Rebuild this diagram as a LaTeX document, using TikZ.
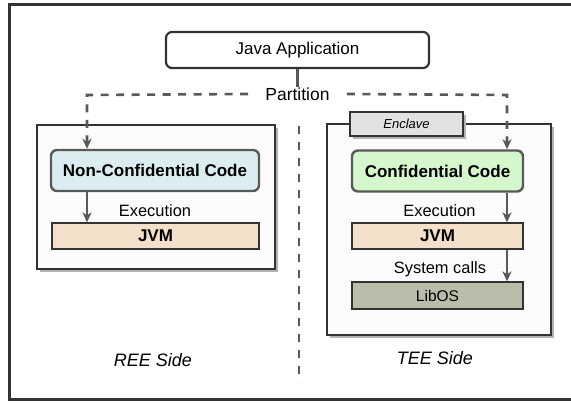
\documentclass[tikz,border=0pt]{standalone}
\usepackage{fontspec}
\setmainfont{Liberation Sans}
\usetikzlibrary{arrows.meta,shadows}
\definecolor{frame}{HTML}{333333}
\definecolor{edge}{HTML}{595959}
\definecolor{nccfill}{HTML}{DCEDF1}
\definecolor{ccfill}{HTML}{D6F6CD}
\definecolor{jvmfill}{HTML}{F3E0CA}
\definecolor{libosfill}{HTML}{B9BDA9}
\definecolor{tabfill}{HTML}{E2E2E2}
\definecolor{sidefill}{HTML}{FDFBFC}
\tikzset{
  x=1pt, y=-1pt,
  fs/.style={font=\fontsize{#1}{#1}\selectfont},
  tip/.style={-{Stealth[length=10pt,width=9pt,inset=3pt]}},
  sidebox/.style={draw=frame, line width=1.5pt, fill=sidefill, inner sep=0pt,
    drop shadow={shadow xshift=3pt, shadow yshift=-3pt, fill=black!30, opacity=1}},
  codebox/.style={draw=edge, line width=2.4pt, rounded corners=6pt, minimum height=41pt, inner sep=0pt,
    font=\fontsize{17}{17}\selectfont\bfseries},
  flatbox/.style={draw=frame, line width=1.3pt, minimum height=26pt, inner sep=0pt},
  lbl/.style={inner sep=1pt, font=\fontsize{16.4}{16.4}\selectfont},
  side/.style={inner sep=1pt, font=\fontsize{18}{18}\selectfont\itshape},
  arr/.style={draw=edge, line width=2.4pt, tip},
  dsh/.style={draw=edge, line width=2.6pt, dash pattern=on 8pt off 7.5pt}
}
\begin{document}
\begin{tikzpicture}
\useasboundingbox (0,0) rectangle (571,403);
% outer frame
\draw[frame, line width=3pt] (9,5) rectangle (600,400);
% side boxes
\node[sidebox, minimum width=238pt, minimum height=144pt] (ree) at (156,197) {};
\node[sidebox, minimum width=224pt, minimum height=211pt] (tee) at (439,229.5) {};
\node[draw=frame, line width=1.3pt, fill=tabfill, minimum width=113pt, minimum height=24pt, inner sep=0pt,
  drop shadow={shadow xshift=3pt, shadow yshift=-3pt, fill=black!30, opacity=1},
  font=\fontsize{13}{13}\selectfont\itshape] (encl) at (406.5,124) {Enclave};
% divider
\coordinate (dtop) at (299,126);
\coordinate (dbot) at (299,382);
\draw[draw=edge, line width=2.6pt, dash pattern=on 8pt off 8pt] (dtop) -- (dbot);
% top
\node[draw=frame, line width=2.2pt, rounded corners=6pt, minimum width=263pt, minimum height=36pt, inner sep=0pt,
  fs=17] (java) at (297.5,50) {Java Application};
\node[fs=17.5, inner xsep=17pt, inner ysep=0pt] (part) at (297.5,94) {Partition};
\draw[edge, line width=2.2pt] (java.south) -- (part.north);
\coordinate (la) at (87,95);
\coordinate (ra) at (507,95);
% code boxes
\node[codebox, fill=nccfill, minimum width=208pt] (ncc) at (155,170.5) {Non-Confidential Code};
\node[codebox, fill=ccfill, minimum width=171pt] (cc) at (437.5,171) {Confidential Code};
\node[flatbox, fill=jvmfill, minimum width=207pt, font=\fontsize{17}{17}\selectfont\bfseries] (jvml) at (155.5,236) {JVM};
\node[flatbox, fill=jvmfill, minimum width=171pt, font=\fontsize{17}{17}\selectfont\bfseries] (jvmr) at (437.5,236) {JVM};
\node[flatbox, fill=libosfill, minimum width=171pt, minimum height=27pt, fs=15.5] (libos) at (437.5,295.5) {LibOS};
% partition dashed arrows
\draw[dsh, tip] (part.west) -- (la) -- (ncc.north -| la);
\draw[dsh, tip] (part.east) -- (ra) -- (cc.north -| ra);
% execution arrows
\draw[arr] (ncc.south -| la) -- (jvml.north -| la);
\draw[arr] (cc.south -| ra) -- (jvmr.north -| ra);
\draw[arr] (jvmr.south -| ra) -- (libos.north -| ra);
% labels
\node[lbl] (exl) at (155,211) {Execution};
\node[lbl] (exr) at (439.5,211) {Execution};
\node[lbl] (sys) at (440,269) {System calls};
\node[side] (rees) at (153,360) {REE Side};
\node[side] (tees) at (435,358) {TEE Side};
\end{tikzpicture}
\end{document}
